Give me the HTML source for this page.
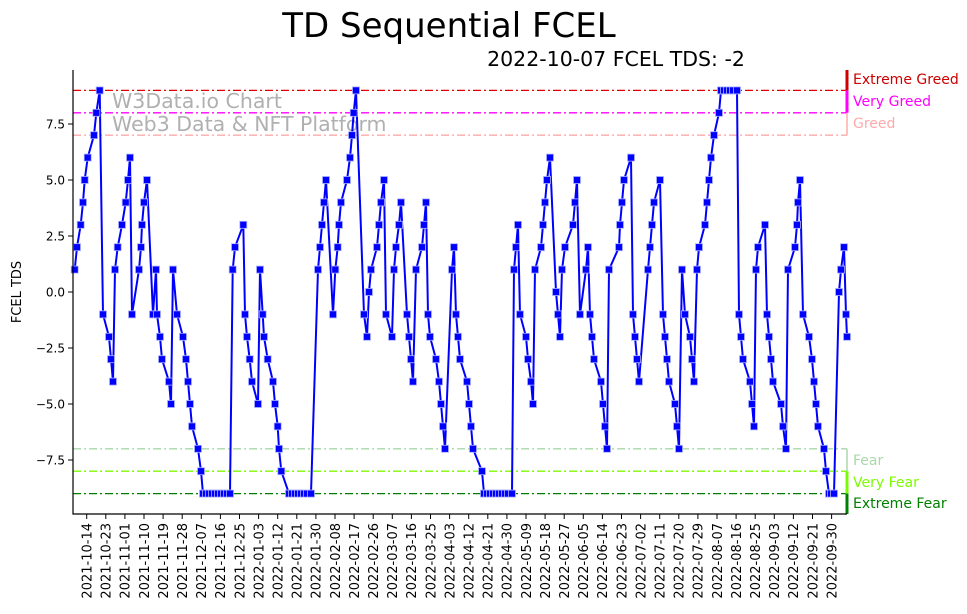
<!DOCTYPE html>
<html><head><meta charset="utf-8"><style>
html,body{margin:0;padding:0;background:#fff;}
svg{display:block;font-family:"DejaVu Sans","Liberation Sans",sans-serif;}
</style></head><body>
<svg width="967" height="614" viewBox="0 0 967 614" xmlns="http://www.w3.org/2000/svg">
<defs>
<marker id="m" markerUnits="userSpaceOnUse" markerWidth="9" markerHeight="9" refX="4.5" refY="4.5" viewBox="0 0 9 9">
<rect x="1" y="1" width="7" height="7" fill="#0000ff" stroke="#aab0ff" stroke-width="0.8"/>
</marker>
</defs>
<text x="449" y="37" font-size="34" text-anchor="middle" fill="#000">TD Sequential FCEL</text>
<text x="616" y="66" font-size="20.5" text-anchor="middle" fill="#000">2022-10-07 FCEL TDS: -2</text>

<g stroke-width="1.3" stroke-dasharray="8,3,2,3" fill="none">
<line x1="73" y1="90.4" x2="847" y2="90.4" stroke="#e00000"/>
<line x1="73" y1="112.8" x2="847" y2="112.8" stroke="#ff00ff"/>
<line x1="73" y1="135.2" x2="847" y2="135.2" stroke="#ffaaaa"/>
<line x1="73" y1="448.8" x2="847" y2="448.8" stroke="#aad8aa"/>
<line x1="73" y1="471.2" x2="847" y2="471.2" stroke="#7cfc00"/>
<line x1="73" y1="493.6" x2="847" y2="493.6" stroke="#008000"/>
</g>
<g fill="none">
<line x1="847" y1="70" x2="847" y2="90.4" stroke="#cc0000" stroke-width="3"/>
<line x1="847" y1="90.4" x2="847" y2="112.8" stroke="#ff00ff" stroke-width="3"/>
<line x1="847" y1="112.8" x2="847" y2="135.2" stroke="#ffaaaa" stroke-width="1.5"/>
<line x1="847" y1="448.8" x2="847" y2="471.2" stroke="#aad8aa" stroke-width="1.5"/>
<line x1="847" y1="471.2" x2="847" y2="493.6" stroke="#7cfc00" stroke-width="3"/>
<line x1="847" y1="493.6" x2="847" y2="514" stroke="#008000" stroke-width="3"/>
</g>
<g font-size="14">
<text x="853" y="84" fill="#cc0000">Extreme Greed</text>
<text x="853" y="106" fill="#ff00ff">Very Greed</text>
<text x="853" y="128" fill="#ffaaaa">Greed</text>
<text x="853" y="465" fill="#aad8aa">Fear</text>
<text x="853" y="487" fill="#7cfc00">Very Fear</text>
<text x="853" y="508" fill="#008000">Extreme Fear</text>
</g>
<g font-size="20.5" fill="#b0b0b0">
<text x="112" y="108">W3Data.io Chart</text>
<text x="112" y="131">Web3 Data &amp; NFT Platform</text>
</g>

<polyline fill="none" stroke="#0000ff" stroke-width="2" stroke-linejoin="round" marker-start="url(#m)" marker-mid="url(#m)" marker-end="url(#m)" points="74.7,269.6 77,247.2 80.7,224.8 83,202.4 84.7,180 87.7,157.6 94,135.2 96.3,112.8 99.7,90.4 103,314.4 109,336.8 111,359.2 113,381.6 115,269.6 117.7,247.2 122,224.8 125.7,202.4 128,180 130,157.6 132,314.4 139,269.6 141,247.2 142,224.8 144,202.4 147,180 153,314.4 156,269.6 157,314.4 160,336.8 162,359.2 169,381.6 171,404 173,269.6 177,314.4 183,336.8 186,359.2 188,381.6 190,404 192,426.4 198,448.8 201,471.2 203,493.6 206,493.6 209,493.6 212,493.6 215,493.6 218,493.6 221,493.6 224,493.6 227,493.6 230,493.6 232.7,269.6 235,247.2 243.3,224.8 245,314.4 247,336.8 249.7,359.2 252,381.6 258,404 260,269.6 262.7,314.4 264,336.8 267.7,359.2 273,381.6 275,404 277.7,426.4 279,448.8 281.3,471.2 289,493.6 292,493.6 295,493.6 298,493.6 301,493.6 304,493.6 307,493.6 311,493.6 318,269.6 320,247.2 322,224.8 324,202.4 326,180 333,314.4 335.3,269.6 337.7,247.2 339,224.8 341,202.4 347,180 350,157.6 352,135.2 353.7,112.8 356,90.4 364,314.4 367,336.8 369,292 371,269.6 377,247.2 379,224.8 381,202.4 384,180 386,314.4 392,336.8 394,269.6 396,247.2 399,224.8 401,202.4 407,314.4 409,336.8 411,359.2 413,381.6 416,269.6 422,247.2 424,224.8 426,202.4 428,314.4 430,336.8 436,359.2 439,381.6 441,404 443,426.4 445,448.8 452,269.6 454,247.2 456,314.4 458,336.8 460,359.2 467,381.6 469,404 471,426.4 473,448.8 482,471.2 484,493.6 487,493.6 490,493.6 493,493.6 496,493.6 499,493.6 502,493.6 505,493.6 508,493.6 512,493.6 514,269.6 516,247.2 518,224.8 520,314.4 526,336.8 528,359.2 531,381.6 533,404 535,269.6 541,247.2 543,224.8 545,202.4 547,180 550,157.6 556,292 558,314.4 560,336.8 562,269.6 565,247.2 573,224.8 575,202.4 577,180 580,314.4 586,269.6 588,247.2 590,314.4 592,336.8 594,359.2 601,381.6 603,404 605,426.4 607,448.8 609,269.6 619,247.2 620,224.8 622,202.4 624,180 631,157.6 633,314.4 635,336.8 637,359.2 639,381.6 648,269.6 650,247.2 652,224.8 654,202.4 660,180 663,314.4 665,336.8 667,359.2 669,381.6 675,404 677,426.4 679,448.8 682,269.6 685,314.4 690,336.8 692,359.2 694,381.6 697,269.6 699,247.2 705,224.8 707,202.4 709,180 711,157.6 714,135.2 719,112.8 721,90.4 724,90.4 727,90.4 730,90.4 733,90.4 737,90.4 739,314.4 741,336.8 743,359.2 750,381.6 752,404 754,426.4 756,269.6 758,247.2 765,224.8 767,314.4 769,336.8 771,359.2 773,381.6 781,404 783,426.4 786,448.8 788,269.6 795,247.2 797,224.8 798,202.4 800,180 803,314.4 809,336.8 812,359.2 814,381.6 816,404 818,426.4 824,448.8 826,471.2 829,493.6 831,493.6 834,493.6 839,292 841,269.6 844,247.2 846,314.4 847,336.8"/>

<line x1="73" y1="70" x2="73" y2="514.5" stroke="#000" stroke-width="1.2"/>
<line x1="72.5" y1="514" x2="847" y2="514" stroke="#000" stroke-width="1.2"/>
<g stroke="#000" stroke-width="1">
<line x1="68" y1="124" x2="73" y2="124"/><line x1="68" y1="180" x2="73" y2="180"/><line x1="68" y1="236" x2="73" y2="236"/><line x1="68" y1="292" x2="73" y2="292"/><line x1="68" y1="348" x2="73" y2="348"/><line x1="68" y1="404" x2="73" y2="404"/><line x1="68" y1="460" x2="73" y2="460"/>
</g>
<g font-size="12" text-anchor="end" fill="#000">
<text x="65" y="128.5">7.5</text><text x="65" y="184.5">5.0</text><text x="65" y="240.5">2.5</text><text x="65" y="296.5">0.0</text><text x="65" y="352.5">−2.5</text><text x="65" y="408.5">−5.0</text><text x="65" y="464.5">−7.5</text>
</g>
<text transform="translate(21,292) rotate(-90)" font-size="13" text-anchor="middle">FCEL TDS</text>

<g stroke="#000" stroke-width="1">
<line x1="86.7" y1="514" x2="86.7" y2="519"/><line x1="105.8" y1="514" x2="105.8" y2="519"/><line x1="124.9" y1="514" x2="124.9" y2="519"/><line x1="144" y1="514" x2="144" y2="519"/><line x1="163.1" y1="514" x2="163.1" y2="519"/><line x1="182.2" y1="514" x2="182.2" y2="519"/><line x1="201.3" y1="514" x2="201.3" y2="519"/><line x1="220.4" y1="514" x2="220.4" y2="519"/><line x1="239.5" y1="514" x2="239.5" y2="519"/><line x1="258.6" y1="514" x2="258.6" y2="519"/><line x1="277.7" y1="514" x2="277.7" y2="519"/><line x1="296.8" y1="514" x2="296.8" y2="519"/><line x1="315.9" y1="514" x2="315.9" y2="519"/><line x1="335" y1="514" x2="335" y2="519"/><line x1="354.1" y1="514" x2="354.1" y2="519"/><line x1="373.2" y1="514" x2="373.2" y2="519"/><line x1="392.3" y1="514" x2="392.3" y2="519"/><line x1="411.4" y1="514" x2="411.4" y2="519"/><line x1="430.5" y1="514" x2="430.5" y2="519"/><line x1="449.6" y1="514" x2="449.6" y2="519"/><line x1="468.7" y1="514" x2="468.7" y2="519"/><line x1="487.8" y1="514" x2="487.8" y2="519"/><line x1="506.9" y1="514" x2="506.9" y2="519"/><line x1="526" y1="514" x2="526" y2="519"/><line x1="545.1" y1="514" x2="545.1" y2="519"/><line x1="564.2" y1="514" x2="564.2" y2="519"/><line x1="583.3" y1="514" x2="583.3" y2="519"/><line x1="602.4" y1="514" x2="602.4" y2="519"/><line x1="621.5" y1="514" x2="621.5" y2="519"/><line x1="640.6" y1="514" x2="640.6" y2="519"/><line x1="659.7" y1="514" x2="659.7" y2="519"/><line x1="678.8" y1="514" x2="678.8" y2="519"/><line x1="697.9" y1="514" x2="697.9" y2="519"/><line x1="717" y1="514" x2="717" y2="519"/><line x1="736.1" y1="514" x2="736.1" y2="519"/><line x1="755.2" y1="514" x2="755.2" y2="519"/><line x1="774.3" y1="514" x2="774.3" y2="519"/><line x1="793.4" y1="514" x2="793.4" y2="519"/><line x1="812.5" y1="514" x2="812.5" y2="519"/><line x1="831.6" y1="514" x2="831.6" y2="519"/>
</g>
<g font-size="13" text-anchor="end" fill="#000">
<text transform="translate(91.5,523) rotate(-90)">2021-10-14</text>
<text transform="translate(110.6,523) rotate(-90)">2021-10-23</text>
<text transform="translate(129.7,523) rotate(-90)">2021-11-01</text>
<text transform="translate(148.8,523) rotate(-90)">2021-11-10</text>
<text transform="translate(167.9,523) rotate(-90)">2021-11-19</text>
<text transform="translate(187,523) rotate(-90)">2021-11-28</text>
<text transform="translate(206.1,523) rotate(-90)">2021-12-07</text>
<text transform="translate(225.2,523) rotate(-90)">2021-12-16</text>
<text transform="translate(244.3,523) rotate(-90)">2021-12-25</text>
<text transform="translate(263.4,523) rotate(-90)">2022-01-03</text>
<text transform="translate(282.5,523) rotate(-90)">2022-01-12</text>
<text transform="translate(301.6,523) rotate(-90)">2022-01-21</text>
<text transform="translate(320.7,523) rotate(-90)">2022-01-30</text>
<text transform="translate(339.8,523) rotate(-90)">2022-02-08</text>
<text transform="translate(358.9,523) rotate(-90)">2022-02-17</text>
<text transform="translate(378,523) rotate(-90)">2022-02-26</text>
<text transform="translate(397.1,523) rotate(-90)">2022-03-07</text>
<text transform="translate(416.2,523) rotate(-90)">2022-03-16</text>
<text transform="translate(435.3,523) rotate(-90)">2022-03-25</text>
<text transform="translate(454.4,523) rotate(-90)">2022-04-03</text>
<text transform="translate(473.5,523) rotate(-90)">2022-04-12</text>
<text transform="translate(492.6,523) rotate(-90)">2022-04-21</text>
<text transform="translate(511.7,523) rotate(-90)">2022-04-30</text>
<text transform="translate(530.8,523) rotate(-90)">2022-05-09</text>
<text transform="translate(549.9,523) rotate(-90)">2022-05-18</text>
<text transform="translate(569,523) rotate(-90)">2022-05-27</text>
<text transform="translate(588.1,523) rotate(-90)">2022-06-05</text>
<text transform="translate(607.2,523) rotate(-90)">2022-06-14</text>
<text transform="translate(626.3,523) rotate(-90)">2022-06-23</text>
<text transform="translate(645.4,523) rotate(-90)">2022-07-02</text>
<text transform="translate(664.5,523) rotate(-90)">2022-07-11</text>
<text transform="translate(683.6,523) rotate(-90)">2022-07-20</text>
<text transform="translate(702.7,523) rotate(-90)">2022-07-29</text>
<text transform="translate(721.8,523) rotate(-90)">2022-08-07</text>
<text transform="translate(740.9,523) rotate(-90)">2022-08-16</text>
<text transform="translate(760,523) rotate(-90)">2022-08-25</text>
<text transform="translate(779.1,523) rotate(-90)">2022-09-03</text>
<text transform="translate(798.2,523) rotate(-90)">2022-09-12</text>
<text transform="translate(817.3,523) rotate(-90)">2022-09-21</text>
<text transform="translate(836.4,523) rotate(-90)">2022-09-30</text>
</g>
</svg>
</body></html>
